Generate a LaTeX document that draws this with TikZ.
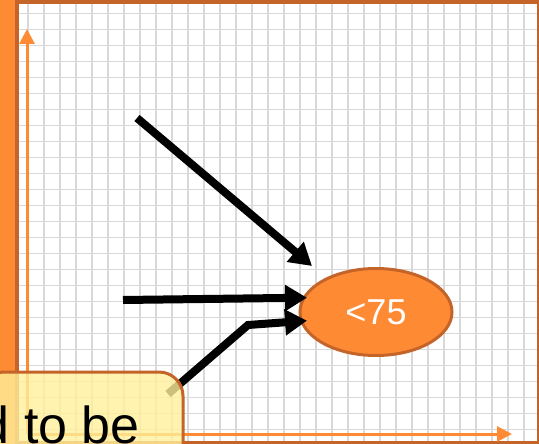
\documentclass[tikz,border=0pt]{standalone}
\usepackage{fontspec}
\setmainfont{Liberation Sans}
\usetikzlibrary{shapes.geometric,arrows.meta}
\definecolor{orangefill}{RGB}{255,138,52}
\definecolor{orangeline}{RGB}{196,100,40}
\definecolor{gridgray}{RGB}{217,217,217}
\definecolor{notefill}{RGB}{255,240,155}
\tikzset{
  pointer/.style={line width=8pt,-{Triangle[length=22pt,width=25pt]}},
  axis/.style={orangefill,line width=3pt,-{Triangle[length=15pt,width=15pt]}},
  gridline/.style={gridgray,line width=1.3pt}
}
\begin{document}
\begin{tikzpicture}[x=1pt,y=-1pt]
      \useasboundingbox (0,0) rectangle (539,444);
      \clip (0,0) rectangle (539,444);
      \fill[orangefill] (-5,-5) rectangle (17,450);
      \begin{scope}
        \clip (17,2) rectangle (538.5,442.5);
        \fill[white] (17,2) rectangle (538.5,442.5);
        \foreach \gx in {0,...,31}
          \draw[gridline] (28+16*\gx,0) -- (28+16*\gx,444);
        \foreach \gy in {0,...,26}
          \draw[gridline] (0,13.3+16*\gy) -- (539,13.3+16*\gy);
      \end{scope}
      \draw[orangeline,line width=3.5pt] (17,2) rectangle (538.5,442.5);
      \coordinate (origin) at (27,434);
      \coordinate (xend) at (512,434);
      \coordinate (yend) at (27,29);
      \draw[axis] (origin) -- (xend);
      \draw[axis] (origin) -- (yend);
      \node[ellipse,draw=orangeline,fill=orangefill,line width=3pt,
        minimum width=152pt,minimum height=87pt,inner sep=0pt,
        text=white,font=\fontsize{36}{40}\selectfont] (lt75) at (376,312) {<75};
      \coordinate (from1) at (137,118);
      \coordinate (from2) at (123,300);
      \coordinate (from3) at (168,394);
      \begin{scope}[pointer]
        \draw (from1) -- ([shift={(-64,-46)}]lt75.center);
        \draw (from2) -- ([shift={(8.5,-14.3)}]lt75.west);
        \draw (from3) -- (248,325) -- ([shift={(8.5,8.7)}]lt75.west);
      \end{scope}
      \draw[orangeline,line width=3pt,fill=notefill,fill opacity=0.8,
        rounded corners=24pt] (-20,372) rectangle (183,480);
      \node[anchor=base east,inner sep=0pt,font=\fontsize{52}{60}\selectfont]
        (notetext) at (140,443) {d to be};
    \end{tikzpicture}
\end{document}
